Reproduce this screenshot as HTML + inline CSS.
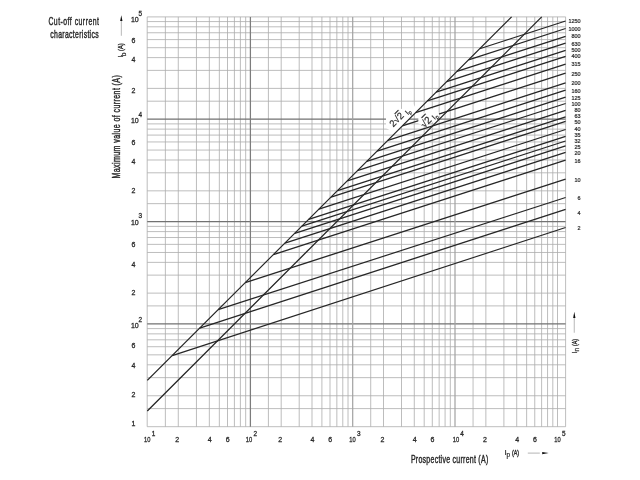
<!DOCTYPE html><html><head><meta charset="utf-8"><style>html,body{margin:0;padding:0;background:#fff;}svg{display:block;}text{font-family:"Liberation Sans",sans-serif;fill:#2a2a2a;}.b{stroke:#2a2a2a;stroke-width:0.32px;}</style></head><body><svg width="640" height="480" viewBox="0 0 640 480"><defs><filter id="bl" x="0" y="0" width="640" height="480" filterUnits="userSpaceOnUse"><feGaussianBlur stdDeviation="0.15"/></filter></defs><rect width="640" height="480" fill="#fff"/><g filter="url(#bl)"><path d="M147.20 16.9V426.7M165.37 16.9V426.7M178.27 16.9V426.7M196.44 16.9V426.7M209.33 16.9V426.7M219.33 16.9V426.7M227.51 16.9V426.7M234.41 16.9V426.7M240.40 16.9V426.7M245.68 16.9V426.7M268.41 16.9V426.7M281.20 16.9V426.7M299.21 16.9V426.7M311.99 16.9V426.7M321.90 16.9V426.7M330.00 16.9V426.7M336.85 16.9V426.7M342.79 16.9V426.7M348.02 16.9V426.7M370.71 16.9V426.7M383.50 16.9V426.7M401.51 16.9V426.7M414.29 16.9V426.7M424.20 16.9V426.7M432.30 16.9V426.7M439.15 16.9V426.7M445.09 16.9V426.7M450.32 16.9V426.7M473.05 16.9V426.7M485.86 16.9V426.7M503.90 16.9V426.7M516.71 16.9V426.7M526.64 16.9V426.7M534.76 16.9V426.7M541.62 16.9V426.7M547.57 16.9V426.7M552.81 16.9V426.7M557.50 16.9V426.7M565.60 16.9V426.7M147.2 426.70H565.6M147.2 408.60H565.6M147.2 395.75H565.6M147.2 377.65H565.6M147.2 364.81H565.6M147.2 354.85H565.6M147.2 346.71H565.6M147.2 339.82H565.6M147.2 333.86H565.6M147.2 328.60H565.6M147.2 305.90H565.6M147.2 293.13H565.6M147.2 275.14H565.6M147.2 262.37H565.6M147.2 252.47H565.6M147.2 244.37H565.6M147.2 237.53H565.6M147.2 231.60H565.6M147.2 226.38H565.6M147.2 203.65H565.6M147.2 190.84H565.6M147.2 172.80H565.6M147.2 159.99H565.6M147.2 150.06H565.6M147.2 141.94H565.6M147.2 135.08H565.6M147.2 129.13H565.6M147.2 123.89H565.6M147.2 101.19H565.6M147.2 88.40H565.6M147.2 70.39H565.6M147.2 57.61H565.6M147.2 47.70H565.6M147.2 39.60H565.6M147.2 32.75H565.6M147.2 26.81H565.6M147.2 21.58H565.6M147.2 16.90H565.6" stroke="#acacac" stroke-width="0.8" fill="none"/><path d="M147.2 323.90H565.6M147.2 221.70H565.6M147.2 119.20H565.6" stroke="#727272" stroke-width="1.25" fill="none"/><path d="M250.40 16.9V426.7" stroke="#7c7c7c" stroke-width="1.25" fill="none"/><path d="M352.70 16.9V426.7M455.00 16.9V426.7" stroke="#a2a2a2" stroke-width="1.2" fill="none"/><path d="M479.68 48.75L565.6 21.0M468.56 59.84L565.6 28.5M457.00 71.38L565.6 36.3M446.78 81.58L565.6 43.2M436.11 92.23L565.6 50.4M427.37 100.95L565.6 56.3M415.66 112.63L565.6 64.2M402.32 125.94L565.6 73.2M387.95 140.28L565.6 82.9M377.13 151.08L565.6 90.2M366.75 161.43L565.6 97.2M357.42 170.74L565.6 103.5M347.34 180.80L565.6 110.3M337.56 190.56L565.6 116.9M331.04 197.06L565.6 121.3M318.89 209.19L565.6 129.5M308.66 219.39L565.6 136.4M301.85 226.19L565.6 141.0M294.73 233.29L565.6 145.8M284.95 243.05L565.6 152.4M273.39 254.58L565.6 160.2M245.24 282.68L565.6 179.2M218.12 309.74L565.6 197.5M199.67 328.14L565.6 209.4M172.20 355.55L565.6 227.5" stroke="#262626" stroke-width="1.3" fill="none"/><g fill="#fff"><polygon points="386,114 401.3,109 413.4,104 417.3,110.9 395,133.2 386,128"/><polygon points="418.3,123.5 418.3,117.5 424.6,112.3 434,108.5 438.5,112.5 439.5,115.5 436.5,120.5 424.6,125.2"/></g><path d="M147.3 380.4L511.6 16.9M147.3 411.0L541.7 16.9" stroke="#262626" stroke-width="1.3" fill="none"/><g font-size="9.5" class="b" style="stroke-width:0.2px"><text transform="translate(393.3 127.4) rotate(-45)">2√<tspan text-decoration="overline">2</tspan><tspan font-size="7.4" dx="3.2" dy="1.8">I</tspan><tspan font-size="5.2" dy="1.2">p</tspan></text><text transform="translate(424.4 128.4) rotate(-45)" font-size="10">√<tspan text-decoration="overline">2</tspan><tspan font-size="7.4" dx="2.3" dy="1.4">I</tspan><tspan font-size="5.2" dy="1.2">p</tspan></text></g><g font-size="6.2" text-anchor="end" class="b" style="stroke-width:0.22px"><text x="580.6" y="23.15" textLength="12.20" lengthAdjust="spacingAndGlyphs">1250</text><text x="580.6" y="30.95" textLength="12.20" lengthAdjust="spacingAndGlyphs">1000</text><text x="580.6" y="38.45" textLength="9.15" lengthAdjust="spacingAndGlyphs">800</text><text x="580.6" y="46.05" textLength="9.15" lengthAdjust="spacingAndGlyphs">630</text><text x="580.6" y="51.65" textLength="9.15" lengthAdjust="spacingAndGlyphs">500</text><text x="580.6" y="57.75" textLength="9.15" lengthAdjust="spacingAndGlyphs">400</text><text x="580.6" y="66.45" textLength="9.15" lengthAdjust="spacingAndGlyphs">315</text><text x="580.6" y="75.65" textLength="9.15" lengthAdjust="spacingAndGlyphs">250</text><text x="580.6" y="84.85" textLength="9.15" lengthAdjust="spacingAndGlyphs">200</text><text x="580.6" y="92.85" textLength="9.15" lengthAdjust="spacingAndGlyphs">160</text><text x="580.6" y="99.85" textLength="9.15" lengthAdjust="spacingAndGlyphs">125</text><text x="580.6" y="106.05" textLength="9.15" lengthAdjust="spacingAndGlyphs">100</text><text x="580.6" y="112.15" textLength="6.10" lengthAdjust="spacingAndGlyphs">80</text><text x="580.6" y="117.75" textLength="6.10" lengthAdjust="spacingAndGlyphs">63</text><text x="580.6" y="124.35" textLength="6.10" lengthAdjust="spacingAndGlyphs">50</text><text x="580.6" y="130.65" textLength="6.10" lengthAdjust="spacingAndGlyphs">40</text><text x="580.6" y="136.85" textLength="6.10" lengthAdjust="spacingAndGlyphs">35</text><text x="580.6" y="143.05" textLength="6.10" lengthAdjust="spacingAndGlyphs">32</text><text x="580.6" y="149.15" textLength="6.10" lengthAdjust="spacingAndGlyphs">25</text><text x="580.6" y="155.35" textLength="6.10" lengthAdjust="spacingAndGlyphs">20</text><text x="580.6" y="162.65" textLength="6.10" lengthAdjust="spacingAndGlyphs">16</text><text x="580.6" y="182.05" textLength="6.10" lengthAdjust="spacingAndGlyphs">10</text><text x="580.6" y="200.25" textLength="3.05" lengthAdjust="spacingAndGlyphs">6</text><text x="580.6" y="214.55" textLength="3.05" lengthAdjust="spacingAndGlyphs">4</text><text x="580.6" y="230.35" textLength="3.05" lengthAdjust="spacingAndGlyphs">2</text></g><g font-size="7" class="b" style="stroke-width:0.28px"><text x="135.3" y="425.80" text-anchor="end">1</text><text x="135.3" y="397.40" text-anchor="end">2</text><text x="135.3" y="367.70" text-anchor="end">4</text><text x="135.3" y="348.40" text-anchor="end">6</text><text x="138.7" y="328.00" text-anchor="end">10</text><text font-size="6.4" x="138.6" y="321.90">2</text><text x="135.3" y="295.10" text-anchor="end">2</text><text x="135.3" y="266.60" text-anchor="end">4</text><text x="135.3" y="247.40" text-anchor="end">6</text><text x="138.7" y="224.50" text-anchor="end">10</text><text font-size="6.4" x="138.6" y="218.40">3</text><text x="135.3" y="193.40" text-anchor="end">2</text><text x="135.3" y="163.70" text-anchor="end">4</text><text x="135.3" y="144.80" text-anchor="end">6</text><text x="138.7" y="122.60" text-anchor="end">10</text><text font-size="6.4" x="138.6" y="116.50">4</text><text x="135.3" y="93.40" text-anchor="end">2</text><text x="135.3" y="61.90" text-anchor="end">4</text><text x="135.3" y="42.80" text-anchor="end">6</text><text x="138.7" y="21.60" text-anchor="end">10</text><text font-size="6.4" x="138.6" y="15.50">5</text></g><g font-size="7" text-anchor="middle" class="b" style="stroke-width:0.28px"><text x="147.25" y="441.7" textLength="6.4" lengthAdjust="spacingAndGlyphs">10</text><text font-size="6.4" x="153.45" y="435.9">1</text><text x="177.27" y="441.7">2</text><text x="209.73" y="441.7">4</text><text x="227.61" y="441.7">6</text><text x="249.00" y="441.7" textLength="6.4" lengthAdjust="spacingAndGlyphs">10</text><text font-size="6.4" x="255.20" y="435.9">2</text><text x="280.20" y="441.7">2</text><text x="312.39" y="441.7">4</text><text x="330.10" y="441.7">6</text><text x="352.50" y="441.7" textLength="6.4" lengthAdjust="spacingAndGlyphs">10</text><text font-size="6.4" x="358.70" y="435.9">3</text><text x="382.50" y="441.7">2</text><text x="414.69" y="441.7">4</text><text x="432.40" y="441.7">6</text><text x="455.90" y="441.7" textLength="6.4" lengthAdjust="spacingAndGlyphs">10</text><text font-size="6.4" x="462.10" y="435.9">4</text><text x="484.86" y="441.7">2</text><text x="517.11" y="441.7">4</text><text x="534.86" y="441.7">6</text><text x="557.50" y="441.7" textLength="6.4" lengthAdjust="spacingAndGlyphs">10</text><text font-size="6.4" x="563.70" y="435.9">5</text></g><g><text class="b" style="stroke-width:0.42px" font-size="10.4" letter-spacing="0.740" transform="translate(48.40 25.00) scale(0.66 1)" x="-0.00" y="0">Cut-off current</text><text class="b" style="stroke-width:0.42px" font-size="10.4" letter-spacing="0.491" transform="translate(50.30 38.10) scale(0.66 1)" x="-0.00" y="0">characteristics</text></g><text class="b" style="stroke-width:0.42px" font-size="10.4" letter-spacing="0.586" transform="translate(119.8 178.5) rotate(-90) scale(0.68 1)" x="-0.00" y="0">Maximum value of current (A)</text><text class="b" style="stroke-width:0.42px" font-size="10.3" letter-spacing="0.387" transform="translate(410.90 463.40) scale(0.68 1)" x="-0.00" y="0">Prospective current (A)</text><g class="b" style="stroke-width:0.2px" transform="translate(123.2 57.6) rotate(-90)"><text font-size="8" x="0" y="0">I</text><text font-size="6.6" x="1.3" y="3.0">b</text><text style="stroke-width:0.4px" font-size="8" transform="translate(6.6 0) scale(0.712 1)" x="-0.00" y="0">(A)</text></g><g class="b" style="stroke-width:0.2px" transform="translate(504.4 455.0)"><text font-size="8" x="0" y="0">I</text><text font-size="6.6" x="2.2" y="2.2">p</text><text style="stroke-width:0.4px" font-size="8" transform="translate(7.6 0) scale(0.665 1)" x="-0.00" y="0">(A)</text></g><g class="b" style="stroke-width:0.2px" transform="translate(577.0 353.4) rotate(-90)"><text font-size="8" x="0" y="0">I</text><text font-size="6.6" x="2.0" y="2.2">n</text><text style="stroke-width:0.4px" font-size="8" transform="translate(7.4 0) scale(0.655 1)" x="-0.00" y="0">(A)</text></g><path d="M121.4 20.5V35.8M527.8 453.1H539.8M574.3 318V332.7" stroke="#c4c4c4" stroke-width="1.2"/><path d="M121.3 15.2l-1.15 5.8h2.3zM548.6 453.1l-6.4 -1.1v2.2zM574.3 311.8l-1.15 6.3h2.3z" fill="#111"/></g></svg></body></html>
